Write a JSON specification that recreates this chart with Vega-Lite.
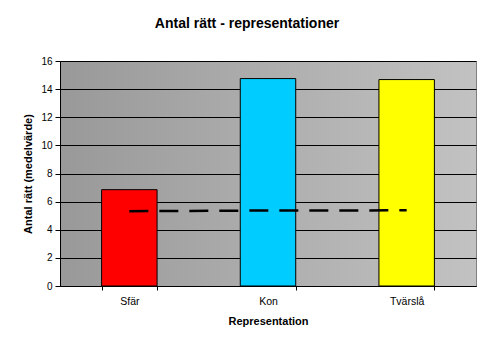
{
  "$schema": "https://vega.github.io/schema/vega-lite/v6.json",
  "width": 416,
  "height": 225,
  "autosize": {"type": "none"},
  "padding": {"left": 60, "top": 61, "right": 4, "bottom": 55},
  "background": "white",
  "title": {
    "text": "Antal rätt - representationer",
    "font": "Liberation Sans",
    "fontSize": 14,
    "fontWeight": "bold",
    "color": "black",
    "anchor": "middle",
    "frame": "group",
    "dx": -21,
    "offset": 25
  },
  "data": {
    "values": [
      {"Representation": "Sfär", "Medel": 6.85, "Slump": 5.32},
      {"Representation": "Kon", "Medel": 14.75, "Slump": 5.37},
      {"Representation": "Tvärslå", "Medel": 14.68, "Slump": 5.38}
    ]
  },
  "encoding": {
    "x": {
      "field": "Representation",
      "type": "nominal",
      "sort": null,
      "scale": {"paddingInner": 0.6, "paddingOuter": 0.3},
      "axis": {
        "title": "Representation",
        "labelAngle": 0,
        "labelFont": "Liberation Sans",
        "labelFontSize": 10.5,
        "labelColor": "black",
        "titleFont": "Liberation Sans",
        "titleFontSize": 11,
        "titleFontWeight": "bold",
        "titleColor": "black",
        "tickBand": "extent",
        "tickColor": "black",
        "tickSize": 4,
        "labelPadding": 6,
        "titlePadding": 9,
        "domainColor": "black",
        "grid": false
      }
    }
  },
  "layer": [
    {
      "mark": {"type": "bar", "stroke": "black", "strokeWidth": 1},
      "encoding": {
        "y": {
          "field": "Medel",
          "type": "quantitative",
          "scale": {"domain": [0, 16], "nice": false},
          "axis": {
            "title": "Antal rätt (medelvärde)",
            "values": [0, 2, 4, 6, 8, 10, 12, 14, 16],
            "labelOverlap": false,
            "labelFont": "Liberation Sans",
            "labelFontSize": 10,
            "labelColor": "black",
            "labelPadding": 3,
            "titleFont": "Liberation Sans",
            "titleFontSize": 11,
            "titleFontWeight": "bold",
            "titleColor": "black",
            "titlePadding": 7,
            "tickColor": "black",
            "tickSize": 5,
            "domainColor": "black",
            "grid": true,
            "gridColor": "black",
            "gridOpacity": 1,
            "gridWidth": 1
          }
        },
        "color": {
          "field": "Representation",
          "type": "nominal",
          "sort": null,
          "scale": {"domain": ["Sfär", "Kon", "Tvärslå"], "range": ["#ff0000", "#00ccff", "#ffff00"]},
          "legend": null
        }
      }
    },
    {
      "mark": {"type": "line", "color": "black", "strokeWidth": 2.5, "strokeDash": [19, 11]},
      "encoding": {
        "y": {
          "field": "Slump",
          "type": "quantitative",
          "scale": {"domain": [0, 16], "nice": false},
          "axis": {
            "title": "Antal rätt (medelvärde)",
            "values": [0, 2, 4, 6, 8, 10, 12, 14, 16],
            "labelOverlap": false,
            "labelFont": "Liberation Sans",
            "labelFontSize": 10,
            "labelColor": "black",
            "labelPadding": 3,
            "titleFont": "Liberation Sans",
            "titleFontSize": 11,
            "titleFontWeight": "bold",
            "titleColor": "black",
            "titlePadding": 7,
            "tickColor": "black",
            "tickSize": 5,
            "domainColor": "black",
            "grid": true,
            "gridColor": "black",
            "gridOpacity": 1,
            "gridWidth": 1
          }
        }
      }
    }
  ],
  "config": {
    "view": {
      "fill": {
        "gradient": "linear",
        "x1": 0, "y1": 0, "x2": 1, "y2": 0,
        "stops": [
          {"offset": 0, "color": "#999999"},
          {"offset": 1, "color": "#c2c2c2"}
        ]
      },
      "stroke": "#808080"
    }
  }
}
